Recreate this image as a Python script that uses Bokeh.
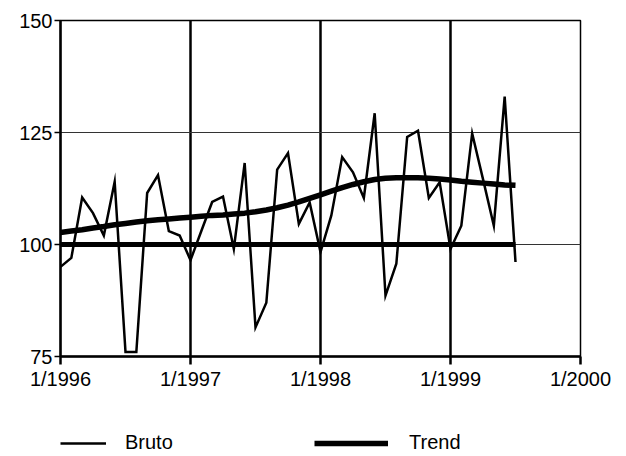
from bokeh.plotting import figure
from bokeh.models import Range1d, FixedTicker, Legend, ColumnDataSource
from bokeh.layouts import column
from bokeh.embed import file_html
from bokeh.resources import INLINE

# Monthly index data, starting 1/1996
bruto = [
    95.0, 97.0, 110.5, 107.0, 102.0, 114.0, 76.0, 76.0, 111.5, 115.5, 103.0, 102.0,   # 1996
    96.5, 103.0, 109.5, 110.7, 99.0, 118.2, 81.5, 87.0, 116.7, 120.4, 104.6, 109.4,  # 1997
    98.3, 106.5, 119.5, 116.1, 110.4, 129.3, 88.6, 95.7, 124.0, 125.4, 110.4, 113.9, # 1998
    99.0, 104.2, 124.8, 114.6, 104.2, 133.0, 96.1,                                   # 1999
]
trend = [
    102.7, 103.0, 103.3, 103.7, 104.0, 104.4, 104.7, 105.0, 105.3, 105.5, 105.7, 105.9,
    106.1, 106.3, 106.5, 106.6, 106.8, 107.0, 107.3, 107.7, 108.2, 108.8, 109.5, 110.3,
    111.1, 111.9, 112.7, 113.4, 114.0, 114.5, 114.8, 114.9, 114.9, 114.9, 114.8, 114.6,
    114.4, 114.1, 113.9, 113.7, 113.5, 113.3, 113.2,
]
base_level = 100
months = list(range(len(bruto)))  # months since 1/1996

x_ticks = [0, 12, 24, 36, 48]
x_tick_labels = ["1/1996", "1/1997", "1/1998", "1/1999", "1/2000"]
y_ticks = [75, 100, 125, 150]
series_names = ["Bruto", "Trend"]

src = ColumnDataSource(dict(month=months, bruto=bruto, trend=trend))

FONT = "Liberation Sans"
BRUTO_W = 2.5
TREND_W = 5.5

p = figure(width=626, height=400, output_backend="svg", toolbar_location=None,
           x_range=Range1d(0, 48), y_range=Range1d(75, 150),
           min_border_left=60, min_border_right=46, min_border_top=20,
           min_border_bottom=44)
p.background_fill_color = "white"
p.border_fill_color = "white"
p.outline_line_color = "black"
p.outline_line_width = 1.5

# axes
p.xaxis.ticker = FixedTicker(ticks=x_ticks)
p.xaxis.major_label_overrides = {t: l for t, l in zip(x_ticks, x_tick_labels)}
p.yaxis.ticker = FixedTicker(ticks=y_ticks)
for ax in (p.xaxis, p.yaxis):
    ax.axis_line_color = "black"
    ax.axis_line_width = 2.5
    ax.major_tick_line_color = "black"
    ax.major_tick_line_width = 1.5
    ax.major_tick_in = 0
    ax.minor_tick_line_color = None
    ax.major_label_text_font = FONT
    ax.major_label_text_font_size = "20px"
    ax.major_label_text_color = "black"
p.xaxis.major_tick_out = 8
p.xaxis.major_tick_line_width = 2.5
p.xaxis.major_label_standoff = 3
p.yaxis.major_tick_out = 6
p.yaxis.major_label_standoff = 2

# grids
p.xgrid.ticker = FixedTicker(ticks=x_ticks)
p.xgrid.grid_line_color = "black"
p.xgrid.grid_line_width = 2.5
p.ygrid.ticker = FixedTicker(ticks=[100, 125])
p.ygrid.grid_line_color = "#333333"
p.ygrid.grid_line_width = 1

# data
p.segment(x0=months[0], x1=months[-1], y0=base_level, y1=base_level,
          line_color="black", line_width=5)
p.line("month", "trend", source=src, line_color="black", line_width=TREND_W, line_join="round")
p.line("month", "bruto", source=src, line_color="black", line_width=BRUTO_W, line_join="miter")

# legend strip below the chart (its own renderers use the same data, out of view)
leg = figure(width=626, height=56, output_backend="svg", toolbar_location=None,
             x_range=Range1d(0, 1), y_range=Range1d(0, 1),
             x_axis_type=None, y_axis_type=None, min_border=0)
leg.outline_line_color = None
leg.background_fill_color = "white"
leg.border_fill_color = "white"
lb = leg.line("month", "bruto", source=src, line_color="black", line_width=BRUTO_W)
lt = leg.line("month", "trend", source=src, line_color="black", line_width=TREND_W)

common = dict(orientation="horizontal", padding=0, margin=0,
              glyph_height=20, label_text_font=FONT, label_text_font_size="20px",
              label_text_color="black", border_line_color=None,
              background_fill_alpha=0)
leg1 = Legend(items=[(series_names[0], [lb])], location=(0, 2),
              glyph_width=46, label_standoff=19, **common)
leg2 = Legend(items=[(series_names[1], [lt])], location=(254, 2),
              glyph_width=74, label_standoff=21, **common)
leg.add_layout(leg1)
leg.add_layout(leg2)

layout = column(p, leg, spacing=0)
open("out.html", "w").write(file_html(layout, INLINE))
